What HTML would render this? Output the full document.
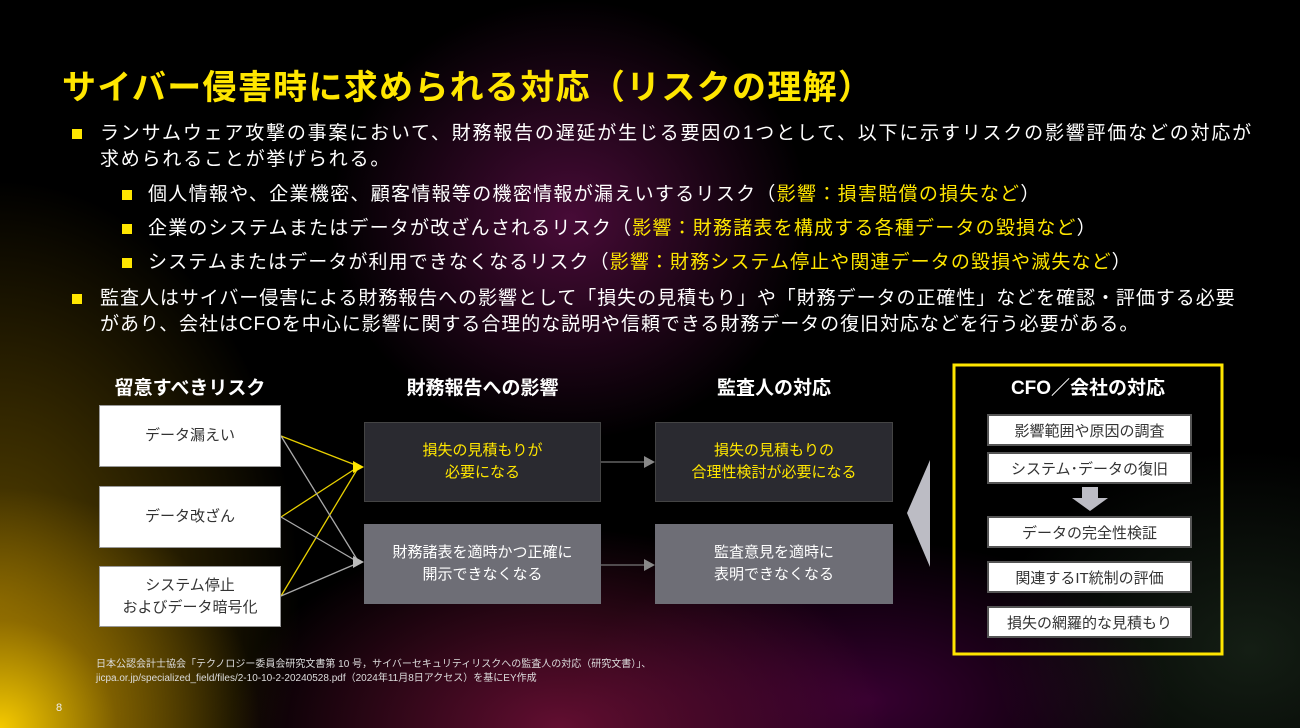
<!DOCTYPE html>
<html><head><meta charset="utf-8"><style>
*{margin:0;padding:0;box-sizing:border-box}
body{width:1300px;height:728px;overflow:hidden;position:relative;font-family:"Liberation Sans","Noto Sans CJK JP",sans-serif;color:#fff;
background:
radial-gradient(ellipse 260px 240px at 0px 728px,rgba(255,210,0,0.95),rgba(200,150,0,0.5) 45%,transparent 100%),
radial-gradient(ellipse 300px 420px at 0px 600px,rgba(150,115,0,0.6),transparent 100%),
radial-gradient(ellipse 330px 200px at 560px 728px,rgba(140,20,70,0.7),transparent 100%),
radial-gradient(ellipse 300px 160px at 870px 700px,rgba(90,0,80,0.6),transparent 100%),
radial-gradient(ellipse 240px 220px at 570px 220px,rgba(130,20,100,0.55),transparent 100%),
radial-gradient(ellipse 260px 200px at 1250px 650px,rgba(40,60,40,0.5),transparent 100%),
#000;}
.a{position:absolute}
.t{left:62px;top:60px;font-size:34px;font-weight:bold;color:#ffe600;white-space:nowrap;letter-spacing:1.3px}
.p{font-size:19px;white-space:nowrap;line-height:26px}
.sq{position:absolute;width:10px;height:10px;background:#ffe600}
.y{color:#ffe600}
.h{font-size:19px;font-weight:bold;text-align:center;white-space:nowrap}
.wb{background:#fff;color:#333;font-size:15px;display:flex;align-items:center;justify-content:center;text-align:center;line-height:22px;border:1px solid #999}
.mb{display:flex;align-items:center;justify-content:center;text-align:center;font-size:15px;line-height:22px}
.cb{background:#fff;color:#333;font-size:15px;display:flex;align-items:center;justify-content:center;left:987px;width:205px;height:32px;border:2px solid #555}
</style></head><body>
<div class="a t">サイバー侵害時に求められる対応（リスクの理解）</div>
<div class="sq" style="left:72px;top:129px"></div>
<div class="a p" style="left:100px;top:121px;letter-spacing:1.8px">ランサムウェア攻撃の事案において、財務報告の遅延が生じる要因の1つとして、以下に示すリスクの影響評価などの対応が<br>求められることが挙げられる。</div>
<div class="sq" style="left:122px;top:190px"></div>
<div class="a p" style="left:148px;top:182px;letter-spacing:1.3px">個人情報や、企業機密、顧客情報等の機密情報が漏えいするリスク（<span class="y">影響：損害賠償の損失など</span>）</div>
<div class="sq" style="left:122px;top:224px"></div>
<div class="a p" style="left:148px;top:216px;letter-spacing:1.2px">企業のシステムまたはデータが改ざんされるリスク（<span class="y">影響：財務諸表を構成する各種データの毀損など</span>）</div>
<div class="sq" style="left:122px;top:258px"></div>
<div class="a p" style="left:148px;top:250px;letter-spacing:1.1px">システムまたはデータが利用できなくなるリスク（<span class="y">影響：財務システム停止や関連データの毀損や滅失など</span>）</div>
<div class="sq" style="left:72px;top:294px"></div>
<div class="a p" style="left:100px;top:286px;letter-spacing:0.95px">監査人はサイバー侵害による財務報告への影響として「損失の見積もり」や「財務データの正確性」などを確認・評価する必要<br>があり、会社はCFOを中心に影響に関する合理的な説明や信頼できる財務データの復旧対応などを行う必要がある。</div>

<div class="a h" style="left:99px;width:182px;top:373px">留意すべきリスク</div>
<div class="a h" style="left:364px;width:237px;top:373px">財務報告への影響</div>
<div class="a h" style="left:655px;width:238px;top:373px">監査人の対応</div>

<div class="a wb" style="left:99px;top:405px;width:182px;height:62px">データ漏えい</div>
<div class="a wb" style="left:99px;top:486px;width:182px;height:62px">データ改ざん</div>
<div class="a wb" style="left:99px;top:566px;width:182px;height:61px">システム停止<br>およびデータ暗号化</div>

<div class="a mb y" style="left:364px;top:422px;width:237px;height:80px;background:#2a2a30;border:1px solid #444">損失の見積もりが<br>必要になる</div>
<div class="a mb" style="left:364px;top:524px;width:237px;height:80px;background:#6e6e76">財務諸表を適時かつ正確に<br>開示できなくなる</div>
<div class="a mb y" style="left:655px;top:422px;width:238px;height:80px;background:#2a2a30;border:1px solid #444">損失の見積もりの<br>合理性検討が必要になる</div>
<div class="a mb" style="left:655px;top:524px;width:238px;height:80px;background:#6e6e76">監査意見を適時に<br>表明できなくなる</div>

<svg class="a" style="left:0;top:0" width="1300" height="728">
<g stroke-width="1.3">
<line x1="281" y1="436" x2="358" y2="466" stroke="#e8d000"/>
<line x1="281" y1="517" x2="358" y2="467" stroke="#e8d000"/>
<line x1="281" y1="596" x2="358" y2="468" stroke="#e8d000"/>
<line x1="281" y1="436" x2="358" y2="561" stroke="#aaa"/>
<line x1="281" y1="517" x2="358" y2="562" stroke="#aaa"/>
<line x1="281" y1="596" x2="358" y2="563" stroke="#aaa"/>
<line x1="601" y1="462" x2="646" y2="462" stroke="#777"/>
<line x1="601" y1="565" x2="646" y2="565" stroke="#777"/>
</g>
<polygon points="364,467 353,461 353,473" fill="#ffe600"/>
<polygon points="364,562 353,556 353,568" fill="#bbb"/>
<polygon points="655,462 644,456 644,468" fill="#888"/>
<polygon points="655,565 644,559 644,571" fill="#888"/>
<polygon points="907,513 930,460 930,567" fill="#bcbcc4"/>
<polygon points="1082,487 1098,487 1098,498 1108,498 1090,511 1072,498 1082,498" fill="#bcbcc4"/>
<rect x="954" y="365" width="268" height="289" fill="none" stroke="#ffe600" stroke-width="3"/>
</svg>
<div class="a h" style="left:954px;width:268px;top:373px">CFO／会社の対応</div>
<div class="a cb" style="top:414px">影響範囲や原因の調査</div>
<div class="a cb" style="top:452px">システム･データの復旧</div>
<div class="a cb" style="top:516px">データの完全性検証</div>
<div class="a cb" style="top:561px">関連するIT統制の評価</div>
<div class="a cb" style="top:606px">損失の網羅的な見積もり</div>

<div class="a" style="left:96px;top:658px;font-size:10px;line-height:14px;color:#ddd;white-space:nowrap">日本公認会計士協会「テクノロジー委員会研究文書第 10 号，サイバーセキュリティリスクへの監査人の対応（研究文書）」、<br>jicpa.or.jp/specialized_field/files/2-10-10-2-20240528.pdf（2024年11月8日アクセス）を基にEY作成</div>
<div class="a" style="left:56px;top:702px;font-size:11px;color:#eee">8</div>
</body></html>
